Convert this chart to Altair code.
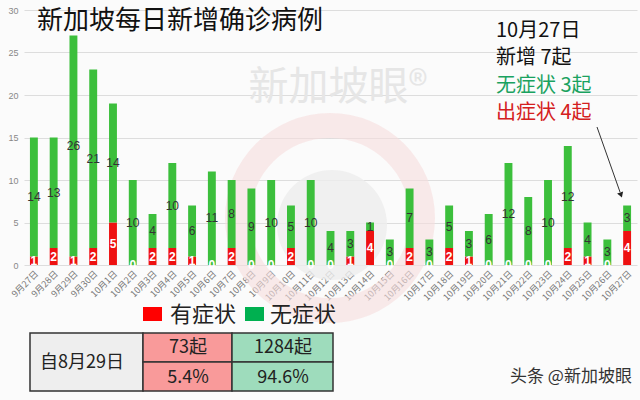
import altair as alt
import pandas as pd

# ---------------- data ----------------
dates = ["9月27日", "9月28日", "9月29日", "9月30日",
         "10月1日", "10月2日", "10月3日", "10月4日", "10月5日", "10月6日",
         "10月7日", "10月8日", "10月9日", "10月10日", "10月11日", "10月12日",
         "10月13日", "10月14日", "10月15日", "10月16日", "10月17日", "10月18日",
         "10月19日", "10月20日", "10月21日", "10月22日", "10月23日", "10月24日",
         "10月25日", "10月26日", "10月27日"]
symptomatic = [1, 2, 1, 2, 5, 0, 2, 2, 1, 0, 2, 0, 0, 2, 0, 0, 1, 4, 0, 2,
               0, 2, 1, 0, 0, 0, 0, 2, 1, 0, 4]
asymptomatic = [14, 13, 26, 21, 14, 10, 4, 10, 6, 11, 8, 9, 10, 5, 10, 4, 3, 1,
                3, 7, 3, 5, 3, 6, 12, 8, 10, 12, 4, 3, 3]
series_names = ["有症状", "无症状"]
y_ticks = [0, 5, 10, 15, 20, 25, 30]

title_text = "新加坡每日新增确诊病例"
note_lines = ["10月27日", "新增 7起", "无症状 3起", "出症状 4起"]
table_label = "自8月29日"
table_counts = ["73起", "1284起"]
table_pcts = ["5.4%", "94.6%"]
credit_text = "头条 @新加坡眼"
watermark_text = "新加坡眼®"

# ---------------- styling ----------------
RED = "#ee1111"
GREEN = "#3cbf3c"
LEG_RED = "#ff0000"
LEG_GREEN = "#00b050"
CJK = "Noto Sans CJK SC"
W, H = 613, 255
OX, OY = 24, 10  # plot origin in page pixels


def px(x):
    return x - OX


def py(y):
    return y - OY


rows = []
for i, d in enumerate(dates):
    s, a = symptomatic[i], asymptomatic[i]
    rows.append({"date": d, "order": i, "series": series_names[0], "y0": 0, "y1": s,
                 "mid": s / 2, "val": s})
    rows.append({"date": d, "order": i, "series": series_names[1], "y0": s, "y1": s + a,
                 "mid": s + a / 2, "val": a})
df = pd.DataFrame(rows)

xscale = alt.Scale(domain=dates, paddingInner=0.6, paddingOuter=0.3)
yscale = alt.Scale(domain=[0, 30], nice=False)

one = alt.Data(values=[{}])

# ---------------- watermark ----------------
ring = alt.Chart(one).mark_arc(
    radius=105, radius2=80, theta=0, theta2=6.2832, color="#f6dddd", opacity=0.6
).encode(x=alt.value(px(330)), y=alt.value(py(218)))
disc = alt.Chart(one).mark_arc(
    radius=55, theta=0, theta2=6.2832, color="#eeeeee", opacity=0.8
).encode(x=alt.value(px(332)), y=alt.value(py(225)))
wm = alt.Chart(one).mark_text(
    text=watermark_text, font=CJK, fontSize=40, color="#e6e6e6", align="center",
    baseline="middle"
).encode(x=alt.value(px(338)), y=alt.value(py(88)))

# ---------------- bars ----------------
base = alt.Chart(df)
bars = base.mark_bar().encode(
    x=alt.X("date:N", sort=dates, scale=xscale,
            axis=alt.Axis(title=None, labelAngle=-45, labelFontSize=9, labelColor="#777",
                          domain=False, ticks=False, labelPadding=4, labelFont="Noto Sans CJK SC")),
    y=alt.Y("y0:Q", scale=yscale,
            axis=alt.Axis(title=None, values=y_ticks, labelFontSize=9, labelColor="#888",
                          domain=False, ticks=False, labelPadding=6, gridColor="#dddddd",
                          labelFont="Liberation Sans")),
    y2="y1:Q",
    color=alt.Color("series:N", scale=alt.Scale(domain=series_names, range=[RED, GREEN]),
                    legend=None),
)

green_lbl = base.transform_filter(
    (alt.datum.series == series_names[1]) & (alt.datum.val > 0)
).mark_text(fontSize=12, color="#333333", font="Liberation Sans", baseline="middle").encode(
    x=alt.X("date:N", sort=dates, scale=xscale),
    y=alt.Y("mid:Q", scale=yscale),
    text="val:Q",
)
red_lbl = base.transform_filter(
    alt.datum.series == series_names[0]
).mark_text(fontSize=12, color="white", fontWeight="bold", font="Liberation Sans",
            baseline="middle").encode(
    x=alt.X("date:N", sort=dates, scale=xscale),
    y=alt.Y("mid:Q", scale=yscale),
    text="val:Q",
)

# ---------------- title & annotation ----------------
title = alt.Chart(one).mark_text(
    text=title_text, font=CJK, fontSize=26, color="#111111", align="left", baseline="middle"
).encode(x=alt.value(px(37)), y=alt.value(py(21)))

note_colors = ["#111111", "#111111", "#1aa260", "#d42020"]
note_y = [31, 58, 86, 113]
notes = [
    alt.Chart(one).mark_text(text=t, font=CJK, fontSize=20, color=c, align="left",
                             baseline="middle").encode(x=alt.value(px(496)), y=alt.value(py(yy)))
    for t, c, yy in zip(note_lines, note_colors, note_y)
]
arrow_line = alt.Chart(one).mark_rule(color="#333333", strokeWidth=1).encode(
    x=alt.value(px(597)), y=alt.value(py(127)), x2=alt.value(px(620)), y2=alt.value(py(192)))
arrow_head = alt.Chart(one).mark_point(
    shape="triangle-down", filled=True, color="#222222", size=40, angle=341, opacity=1
).encode(x=alt.value(px(621)), y=alt.value(py(195)))

# ---------------- legend ----------------
leg = []
for name, col, sx, tx in [(series_names[0], LEG_RED, 143, 170), (series_names[1], LEG_GREEN, 245, 270)]:
    leg.append(alt.Chart(one).mark_rect(color=col).encode(
        x=alt.value(px(sx)), x2=alt.value(px(sx + 19)), y=alt.value(py(307)), y2=alt.value(py(321))))
    leg.append(alt.Chart(one).mark_text(text=name, font=CJK, fontSize=22, color="#222222",
                                        align="left", baseline="middle").encode(
        x=alt.value(px(tx)), y=alt.value(py(315))))

# ---------------- table ----------------
tbl = []
cells = [
    (30, 143, 333, 391, "#eeeeee"),
    (143, 232, 333, 362, "#f99a9a"),
    (143, 232, 362, 391, "#f99a9a"),
    (232, 333, 333, 362, "#9edcbc"),
    (232, 333, 362, 391, "#9edcbc"),
]
for x0, x1, y0, y1, fill in cells:
    tbl.append(alt.Chart(one).mark_rect(fill=fill, stroke="#333333", strokeWidth=1.5).encode(
        x=alt.value(px(x0)), x2=alt.value(px(x1)), y=alt.value(py(y0)), y2=alt.value(py(y1))))
tbl.append(alt.Chart(one).mark_text(text=table_label, font=CJK, fontSize=18, color="#222222",
                                    align="center", baseline="middle").encode(
    x=alt.value(px(82)), y=alt.value(py(363))))
for t, cx in zip(table_counts, [188, 283]):
    tbl.append(alt.Chart(one).mark_text(text=t, font=CJK, fontSize=18, color="#222222",
                                        align="center", baseline="middle").encode(
        x=alt.value(px(cx)), y=alt.value(py(348))))
for t, cx in zip(table_pcts, [188, 283]):
    tbl.append(alt.Chart(one).mark_text(text=t, font=CJK, fontSize=18, color="#222222",
                                        align="center", baseline="middle").encode(
        x=alt.value(px(cx)), y=alt.value(py(378))))

credit = alt.Chart(one).mark_text(
    text=credit_text, font=CJK, fontSize=17, color="#333333", align="left", baseline="middle"
).encode(x=alt.value(px(510)), y=alt.value(py(377)))

chart = alt.layer(
    ring, disc, wm, bars, green_lbl, red_lbl, title, *notes, arrow_line, arrow_head,
    *leg, *tbl, credit
).properties(
    width=W, height=H,
    autosize=alt.AutoSizeParams(type="none"),
    padding={"left": OX, "top": OY, "right": 640 - OX - W, "bottom": 400 - OY - H},
    background="#fbfbfb",
).configure_view(stroke=None)

chart.save("out.html", embed_options={"renderer": "svg", "actions": False})
